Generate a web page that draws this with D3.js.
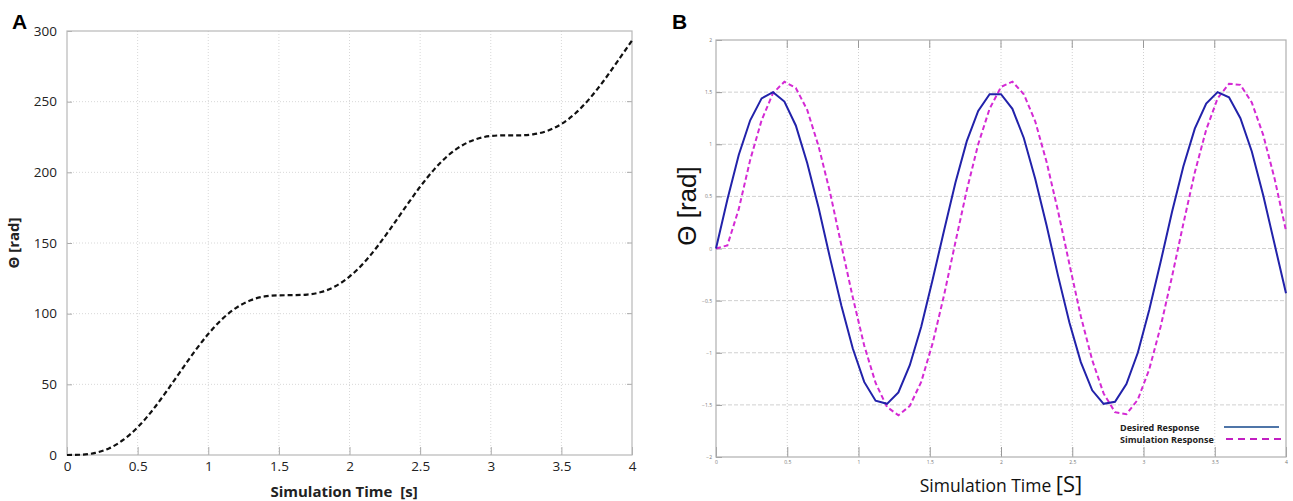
<!DOCTYPE html>
<html>
<head>
<meta charset="utf-8">
<script src="https://cdn.jsdelivr.net/npm/d3@7"></script>
<style>
  body { margin: 0; background: #fff; }
  svg { display: block; }
</style>
</head>
<body>
<div id="chart"></div>
<script>
// panel A: rotation angle, sampled every 0.1 s
var timeA = [0, 0.1, 0.2, 0.3, 0.4, 0.5, 0.6, 0.7, 0.8, 0.9, 1.0, 1.1, 1.2, 1.3, 1.4, 1.5, 1.6, 1.7, 1.8, 1.9, 2.0,
  2.1, 2.2, 2.3, 2.4, 2.5, 2.6, 2.7, 2.8, 2.9, 3.0, 3.1, 3.2, 3.3, 3.4, 3.5, 3.6, 3.7, 3.8, 3.9, 4.0];
var thetaA = [0, 0.2, 1.5, 4.8, 10.8, 19.6, 31.0, 44.4, 58.7, 72.8, 85.6, 96.3, 104.3, 109.5, 112.2, 113.0, 113.1,
  113.5, 115.3, 119.4, 126.2, 135.8, 147.9, 161.6, 175.9, 189.8, 202.1, 212.1, 219.2, 223.6, 225.7, 226.2, 226.2,
  226.9, 229.3, 234.2, 241.8, 252.2, 264.8, 278.9, 293.2];

// panel B: desired vs simulated response, sampled every 0.08 s
var timeB = [0, 0.08, 0.16, 0.24, 0.32, 0.40, 0.48, 0.56, 0.64, 0.72, 0.80, 0.88, 0.96, 1.04, 1.12, 1.20, 1.28,
  1.36, 1.44, 1.52, 1.60, 1.68, 1.76, 1.84, 1.92, 2.00, 2.08, 2.16, 2.24, 2.32, 2.40, 2.48, 2.56, 2.64, 2.72,
  2.80, 2.88, 2.96, 3.04, 3.12, 3.20, 3.28, 3.36, 3.44, 3.52, 3.60, 3.68, 3.76, 3.84, 3.92, 4.00];
var desired = [0, 0.47, 0.90, 1.23, 1.44, 1.50, 1.41, 1.18, 0.82, 0.39, -0.09, -0.55, -0.96, -1.28, -1.46, -1.49,
  -1.38, -1.12, -0.75, -0.30, 0.17, 0.63, 1.03, 1.32, 1.48, 1.48, 1.34, 1.06, 0.67, 0.22, -0.26, -0.71, -1.09,
  -1.36, -1.49, -1.47, -1.30, -1.00, -0.59, -0.13, 0.35, 0.79, 1.15, 1.39, 1.50, 1.45, 1.25, 0.93, 0.51, 0.04, -0.43];
var simulated = [0, 0.03, 0.38, 0.85, 1.23, 1.49, 1.60, 1.54, 1.33, 0.98, 0.54, 0.03, -0.47, -0.93, -1.29, -1.52,
  -1.60, -1.51, -1.28, -0.91, -0.45, 0.06, 0.56, 1.00, 1.34, 1.55, 1.60, 1.48, 1.22, 0.83, 0.36, -0.15, -0.65,
  -1.07, -1.39, -1.57, -1.59, -1.45, -1.16, -0.75, -0.27, 0.24, 0.73, 1.14, 1.44, 1.58, 1.57, 1.40, 1.09, 0.67, 0.17];

var xTicks = [0, 0.5, 1, 1.5, 2, 2.5, 3, 3.5, 4];
var yTicksA = [0, 50, 100, 150, 200, 250, 300];
var yTicksB = [-2, -1.5, -1, -0.5, 0, 0.5, 1, 1.5, 2];
var legendLabels = ["Desired Response", "Simulation Response"];

var W = 1293, H = 501;
var font = "'Open Sans', sans-serif";
var arial = "'Liberation Sans', Arial, sans-serif";

var svg = d3.select("#chart").append("svg")
  .attr("width", W).attr("height", H)
  .style("font-family", font);

// ---------- panel A ----------
var xA = d3.scaleLinear().domain([0, 4]).range([67, 632]);
var yA = d3.scaleLinear().domain([0, 300]).range([455, 31]);
var gA = svg.append("g");

// grid
gA.selectAll(".vgrid").data(xTicks.slice(1, -1)).enter().append("line")
  .attr("x1", d => xA(d)).attr("x2", d => xA(d))
  .attr("y1", yA(300)).attr("y2", yA(0))
  .style("stroke", "#d8d8d8").style("stroke-dasharray", "1,2").style("stroke-width", 1);
gA.selectAll(".hgrid").data(yTicksA.slice(1, -1)).enter().append("line")
  .attr("x1", xA(0)).attr("x2", xA(4))
  .attr("y1", d => yA(d)).attr("y2", d => yA(d))
  .style("stroke", "#d8d8d8").style("stroke-dasharray", "1,2").style("stroke-width", 1);

// axes
var axA = gA.append("g").attr("transform", "translate(0," + yA(0) + ")")
  .call(d3.axisBottom(xA).tickValues(xTicks).tickSize(-8).tickPadding(6).tickFormat(d3.format("")));
var ayA = gA.append("g").attr("transform", "translate(" + xA(0) + ",0)")
  .call(d3.axisLeft(yA).tickValues(yTicksA).tickSize(-5).tickPadding(10));
[axA, ayA].forEach(function (a) {
  a.select(".domain").remove();
  a.selectAll("line").style("stroke", "#aaa");
  a.selectAll("text").style("font-size", "13.5px").style("fill", "#222").style("font-family", font);
});
// right side ticks
gA.selectAll(".rtick").data(yTicksA.slice(1, -1)).enter().append("line")
  .attr("x1", xA(4) - 5).attr("x2", xA(4))
  .attr("y1", d => yA(d)).attr("y2", d => yA(d))
  .style("stroke", "#aaa");
gA.append("rect")
  .attr("x", xA(0)).attr("y", yA(300))
  .attr("width", xA(4) - xA(0)).attr("height", yA(0) - yA(300))
  .style("fill", "none").style("stroke", "#b8b8b8").style("stroke-width", 1.2);

var lineA = d3.line().x((d, i) => xA(timeA[i])).y(d => yA(d)).curve(d3.curveMonotoneX);
gA.append("path").datum(thetaA)
  .attr("d", lineA)
  .style("fill", "none").style("stroke", "#111").style("stroke-width", 2.2)
  .style("stroke-dasharray", "5,3");

gA.append("text").attr("x", 12).attr("y", 29).text("A")
  .style("font-family", arial).style("font-weight", "bold").style("font-size", "21px");
gA.append("text")
  .attr("transform", "translate(19,243) rotate(-90)")
  .attr("text-anchor", "middle")
  .style("font-weight", "bold").style("font-size", "15px").style("fill", "#222")
  .text("Θ [rad]");
gA.append("text")
  .attr("x", 344).attr("y", 497)
  .attr("text-anchor", "middle")
  .style("white-space", "pre")
  .style("font-weight", "bold").style("font-size", "15px").style("fill", "#222")
  .text("Simulation Time  [s]");

// ---------- panel B ----------
var xB = d3.scaleLinear().domain([0, 4]).range([716, 1286]);
var yB = d3.scaleLinear().domain([-2, 2]).range([457, 40]);
var gB = svg.append("g");

gB.selectAll(".vgrid").data(xTicks.slice(1, -1)).enter().append("line")
  .attr("x1", d => xB(d)).attr("x2", d => xB(d))
  .attr("y1", yB(2)).attr("y2", yB(-2))
  .style("stroke", "#d0d0d0").style("stroke-dasharray", "1,2").style("stroke-width", 1);
gB.selectAll(".hgrid").data(yTicksB.slice(1, -1)).enter().append("line")
  .attr("x1", xB(0)).attr("x2", xB(4))
  .attr("y1", d => yB(d)).attr("y2", d => yB(d))
  .style("stroke", "#d0d0d0").style("stroke-dasharray", "4,2").style("stroke-width", 1);

var axB = gB.append("g").attr("transform", "translate(0," + yB(-2) + ")")
  .call(d3.axisBottom(xB).tickValues(xTicks).tickSize(-10).tickPadding(3).tickFormat(d3.format("")));
var ayB = gB.append("g").attr("transform", "translate(" + xB(0) + ",0)")
  .call(d3.axisLeft(yB).tickValues(yTicksB).tickSize(-6).tickPadding(4).tickFormat(d3.format("")));
[axB, ayB].forEach(function (a) {
  a.select(".domain").remove();
  a.selectAll("line").style("stroke", "#999");
  a.selectAll("text").style("font-size", "5px").style("fill", "#777").style("font-family", font);
});
gB.selectAll(".ttick").data(xTicks.slice(1, -1)).enter().append("line")
  .attr("x1", d => xB(d)).attr("x2", d => xB(d))
  .attr("y1", yB(2)).attr("y2", yB(2) + 8)
  .style("stroke", "#999");
gB.append("rect")
  .attr("x", xB(0)).attr("y", yB(2))
  .attr("width", xB(4) - xB(0)).attr("height", yB(-2) - yB(2))
  .style("fill", "none").style("stroke", "#b0b0b0").style("stroke-width", 1.2);

var lineB = function (vals) {
  return d3.line().x((d, i) => xB(timeB[i])).y(d => yB(d))(vals);
};
gB.append("path").attr("d", lineB(simulated))
  .style("fill", "none").style("stroke", "#d42ad4").style("stroke-width", 2)
  .style("stroke-dasharray", "5,3");
gB.append("path").attr("d", lineB(desired))
  .style("fill", "none").style("stroke", "#2222aa").style("stroke-width", 2);

// legend
var leg = gB.append("g");
leg.selectAll("text").data(legendLabels).enter().append("text")
  .attr("x", 1120).attr("y", (d, i) => 431 + i * 12)
  .style("font-weight", "bold").style("font-size", "9px").style("fill", "#222")
  .text(d => d);
leg.append("line").attr("x1", 1224).attr("x2", 1279).attr("y1", 427).attr("y2", 427)
  .style("stroke", "#4f75a8").style("stroke-width", 2.2);
leg.append("line").attr("x1", 1226).attr("x2", 1284).attr("y1", 439).attr("y2", 439)
  .style("stroke", "#c21fc2").style("stroke-width", 2).style("stroke-dasharray", "7,5");

gB.append("text").attr("x", 672).attr("y", 29).text("B")
  .style("font-family", arial).style("font-weight", "bold").style("font-size", "21px");
gB.append("text")
  .attr("transform", "translate(696,206) rotate(-90)")
  .attr("text-anchor", "middle")
  .style("font-family", "'Liberation Sans Narrow', " + arial).style("font-size", "26px").style("fill", "#111")
  .text("Θ [rad]");
var xt = gB.append("text")
  .attr("x", 1001).attr("y", 492)
  .attr("text-anchor", "middle")
  .style("font-size", "17.5px").style("fill", "#111");
xt.append("tspan").text("Simulation Time ");
xt.append("tspan").style("font-size", "22px").text("[S]");
</script>
</body>
</html>
